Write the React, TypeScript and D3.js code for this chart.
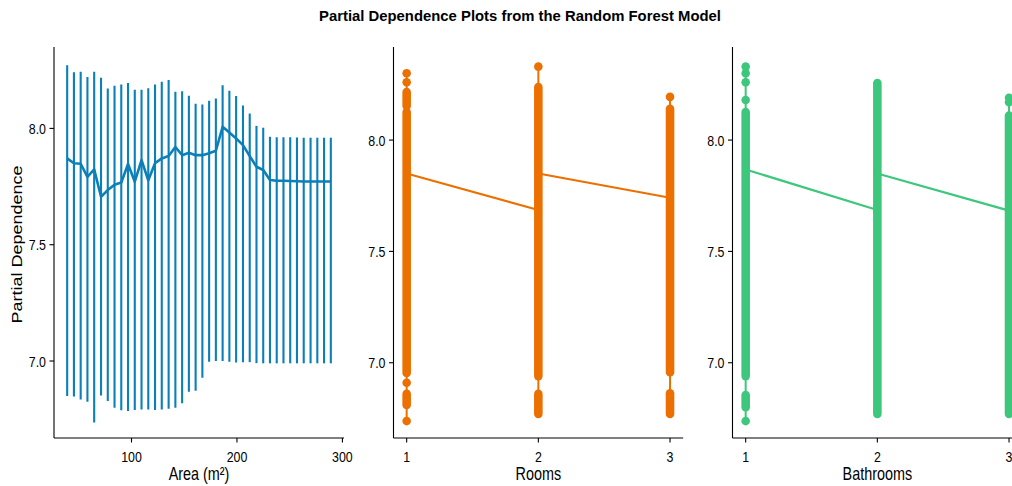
import React from "react";
import * as d3 from "d3";

// ---------- data ----------
const areaGrid = [39, 45.4, 51.8, 58.2, 64.6, 71.1, 77.5, 83.9, 90.3, 96.7, 103.1, 109.5, 115.9, 122.3, 128.7, 135.2, 141.6, 148, 154.4, 160.8, 167.2, 173.6, 180, 186.4, 192.8, 199.2, 205.7, 212.1, 218.5, 224.9, 231.3, 237.7, 244.1, 250.5, 256.9, 263.3, 269.8, 276.2, 282.6, 289];
const areaHigh = [8.272, 8.241, 8.244, 8.221, 8.244, 8.218, 8.172, 8.183, 8.189, 8.195, 8.166, 8.166, 8.173, 8.189, 8.201, 8.208, 8.158, 8.16, 8.14, 8.106, 8.103, 8.119, 8.129, 8.186, 8.162, 8.139, 8.099, 8.064, 8.011, 8.003, 7.964, 7.962, 7.962, 7.962, 7.961, 7.96, 7.96, 7.96, 7.96, 7.96];
const areaLow = [6.85, 6.847, 6.835, 6.825, 6.736, 6.852, 6.828, 6.799, 6.788, 6.785, 6.789, 6.792, 6.791, 6.789, 6.792, 6.795, 6.799, 6.818, 6.868, 6.872, 6.928, 6.997, 7.0, 7.0, 6.997, 6.994, 6.995, 6.995, 6.991, 6.99, 6.99, 6.99, 6.99, 6.99, 6.99, 6.99, 6.99, 6.99, 6.99, 6.99];
const areaMean = [7.871, 7.85, 7.848, 7.792, 7.824, 7.706, 7.735, 7.758, 7.767, 7.847, 7.771, 7.864, 7.777, 7.85, 7.871, 7.881, 7.92, 7.885, 7.895, 7.885, 7.885, 7.893, 7.904, 8.007, 7.982, 7.957, 7.928, 7.881, 7.835, 7.821, 7.778, 7.775, 7.775, 7.774, 7.773, 7.772, 7.772, 7.772, 7.772, 7.772];
const areaTicks = [100, 200, 300];

const levelTicks = [1, 2, 3];
const pdTicks = [7.0, 7.5, 8.0];

// [level, from, to] : runs of densely stacked ICE points
const roomsRuns: [number, number, number][] = [[1, 8.216, 8.153], [1, 8.126, 6.954], [1, 6.86, 6.81], [2, 8.238, 6.94], [2, 6.86, 6.77], [3, 8.14, 6.957], [3, 6.863, 6.77]];
// [level, value] : isolated ICE points
const roomsSingles: [number, number][] = [[1, 8.3], [1, 8.26], [1, 6.91], [1, 6.738], [2, 8.33], [3, 8.194]];
// [x0, y0, x1, y1] : connecting line pieces
const roomsLinks: [number, number, number, number][] = [[1, 7.85, 2, 7.686], [2, 7.85, 3, 7.741]];

const bathRuns: [number, number, number][] = [[1, 8.126, 6.94], [1, 6.855, 6.8], [2, 8.256, 6.77], [3, 8.11, 6.77]];
const bathSingles: [number, number][] = [[1, 8.33], [1, 8.3], [1, 8.26], [1, 8.18], [1, 6.738], [3, 8.19], [3, 8.17]];
const bathLinks: [number, number, number, number][] = [[1, 7.868, 2, 7.686], [2, 7.85, 3, 7.683]];

// ---------- styling ----------
const W = 1012;
const H = 486;
const SX = 0.8;
const FONT = "Liberation Sans, Arial, Helvetica, sans-serif";
const BLUE = "#0b7fb8";
const ORANGE = "#ec7000";
const GREEN = "#3dc77c";
const TOP = 47;
const BOTTOM = 438;

function T(props: { x: number; y: number; anchor?: string; size: number; weight?: string; rotate?: number; len?: number; children: React.ReactNode }) {
  const { x, y, anchor = "middle", size, weight = "normal", rotate, len, children } = props;
  const tr = `translate(${x},${y}) scale(${SX},1)` + (rotate ? ` rotate(${rotate})` : "");
  return (
    <g transform={tr}>
      <text textAnchor={anchor} fontSize={size} fontWeight={weight} fontFamily={FONT} fill="#000"
        {...(len ? { textLength: len, lengthAdjust: "spacingAndGlyphs" } : {})}>
        {children}
      </text>
    </g>
  );
}

function Axes(props: { x: d3.ScaleLinear<number, number>; y: d3.ScaleLinear<number, number>; xTicks: number[]; yTicks: number[]; xFmt: (v: number) => string; title: string }) {
  const { x, y, xTicks, yTicks, xFmt, title } = props;
  const [x0, x1] = x.range();
  return (
    <g>
      <line x1={x0} x2={x0} y1={TOP} y2={BOTTOM} stroke="#000" strokeWidth={1.1} />
      <line x1={x0} x2={x1} y1={BOTTOM} y2={BOTTOM} stroke="#000" strokeWidth={1.1} />
      {yTicks.map((t) => (
        <g key={"y" + t}>
          <line x1={x0 - 4.5} x2={x0} y1={y(t)} y2={y(t)} stroke="#000" strokeWidth={1.1} />
          <T x={x0 - 8} y={y(t) + 5.6} anchor="end" size={15.5}>{d3.format(".1f")(t)}</T>
        </g>
      ))}
      {xTicks.map((t) => (
        <g key={"x" + t}>
          <line x1={x(t)} x2={x(t)} y1={BOTTOM} y2={BOTTOM + 4.5} stroke="#000" strokeWidth={1.1} />
          <T x={x(t)} y={461.5} size={15.5}>{xFmt(t)}</T>
        </g>
      ))}
      <T x={(x0 + x1) / 2} y={480} size={18}>{title}</T>
    </g>
  );
}

function IcePanel(props: { left: number; runs: [number, number, number][]; singles: [number, number][]; links: [number, number, number, number][]; color: string; title: string }) {
  const { left, runs, singles, links, color, title } = props;
  const x = d3.scaleLinear().domain([0.9, 3.1]).range([left, left + 289.7]);
  const y = d3.scaleLinear().domain([6.662, 8.418]).range([BOTTOM, TOP]);
  const r = 4.3;
  const spans = levelTicks.map((lv) => {
    const vals: number[] = [];
    runs.filter((d) => d[0] === lv).forEach((d) => vals.push(d[1], d[2]));
    singles.filter((d) => d[0] === lv).forEach((d) => vals.push(d[1]));
    return { lv, lo: d3.min(vals) as number, hi: d3.max(vals) as number };
  });
  return (
    <g>
      {spans.map((s) => (
        <line key={"s" + s.lv} x1={x(s.lv)} x2={x(s.lv)} y1={y(s.lo)} y2={y(s.hi)} stroke={color} strokeWidth={2} />
      ))}
      {runs.map((d, i) => (
        <line key={"r" + i} x1={x(d[0])} x2={x(d[0])} y1={y(d[1])} y2={y(d[2])} stroke={color} strokeWidth={2 * r} strokeLinecap="round" />
      ))}
      {singles.map((d, i) => (
        <circle key={"p" + i} cx={x(d[0])} cy={y(d[1])} r={r} fill={color} />
      ))}
      {links.map((d, i) => (
        <line key={"l" + i} x1={x(d[0])} y1={y(d[1])} x2={x(d[2])} y2={y(d[3])} stroke={color} strokeWidth={2.2} />
      ))}
      <Axes x={x} y={y} xTicks={levelTicks} yTicks={pdTicks} xFmt={(v) => String(v)} title={title} />
    </g>
  );
}

export default function App() {
  const xA = d3.scaleLinear().domain([26.5, 301.5]).range([54, 344]);
  const yA = d3.scaleLinear().domain([6.669, 8.35]).range([BOTTOM, TOP]);
  const meanLine = d3.line<number>().x((_, i) => xA(areaGrid[i])).y((d) => yA(d));
  return (
    <svg width={W} height={H} viewBox={`0 0 ${W} ${H}`}
      style={{ position: "absolute", left: 0, top: 0, display: "block", background: "#fff", overflow: "hidden" }}>
      <rect x={0} y={0} width={W} height={H} fill="#fff" />
      <T x={520} y={21} size={15} weight="bold" len={402 / SX}>Partial Dependence Plots from the Random Forest Model</T>

      {/* Area panel */}
      <g>
        {areaGrid.map((a, i) => (
          <line key={i} x1={xA(a)} x2={xA(a)} y1={yA(areaLow[i])} y2={yA(areaHigh[i])} stroke={BLUE} strokeWidth={2.1} />
        ))}
        <path d={meanLine(areaMean) || ""} fill="none" stroke={BLUE} strokeWidth={2.6} strokeLinejoin="round" />
        <Axes x={xA} y={yA} xTicks={areaTicks} yTicks={pdTicks} xFmt={(v) => String(v)} title="Area (m²)" />
        <T x={21.5} y={244.5} size={18} rotate={-90}>Partial Dependence</T>
      </g>

      <IcePanel left={393.5} runs={roomsRuns} singles={roomsSingles} links={roomsLinks} color={ORANGE} title="Rooms" />
      <IcePanel left={732.5} runs={bathRuns} singles={bathSingles} links={bathLinks} color={GREEN} title="Bathrooms" />
    </svg>
  );
}
